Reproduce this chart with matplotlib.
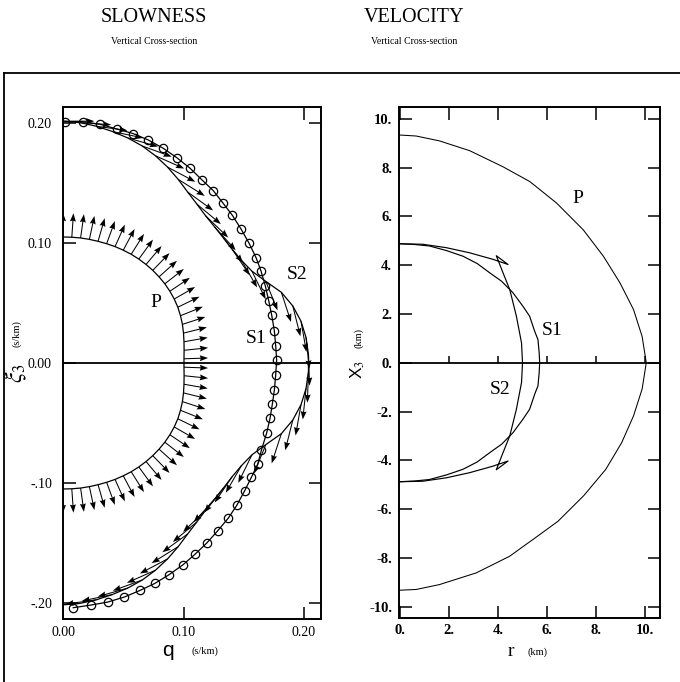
import matplotlib
matplotlib.use("Agg")
import numpy as np
import matplotlib.pyplot as plt
from matplotlib.lines import Line2D

plt.rcParams['font.family'] = ['Liberation Serif', 'DejaVu Serif']
plt.rcParams['mathtext.fontset'] = 'stix'

# ---------------- SLOWNESS panel data (q, xi in s/km) ----------------
# P slowness curve points (where the P polarization arrows start)
p_q = [0.0000, 0.0073, 0.0146, 0.0219, 0.0291, 0.0362, 0.0432, 0.0500, 0.0566, 0.0629,
       0.0689, 0.0745, 0.0797, 0.0845, 0.0887, 0.0923, 0.0953, 0.0975, 0.0991, 0.1000,
       0.1004, 0.1005, 0.1004,
       0.1004, 0.1005, 0.1004, 0.1000, 0.0991, 0.0975, 0.0953, 0.0923, 0.0887, 0.0845,
       0.0797, 0.0745, 0.0689, 0.0629, 0.0566, 0.0500, 0.0432, 0.0362, 0.0291, 0.0219,
       0.0146, 0.0073, 0.0000]
p_xi = [0.1050, 0.1048, 0.1042, 0.1030, 0.1014, 0.0994, 0.0970, 0.0940, 0.0906, 0.0866,
        0.0821, 0.0772, 0.0718, 0.0660, 0.0598, 0.0533, 0.0465, 0.0394, 0.0322, 0.0249,
        0.0177, 0.0106, 0.0035,
        -0.0035, -0.0106, -0.0177, -0.0249, -0.0322, -0.0394, -0.0465, -0.0533, -0.0598, -0.0660,
        -0.0718, -0.0772, -0.0821, -0.0866, -0.0906, -0.0940, -0.0970, -0.0994, -0.1014, -0.1030,
        -0.1042, -0.1048, -0.1050]
# P polarization direction (degrees, clockwise from +xi axis)
p_pol = [0, 4, 8, 12, 16, 20, 24, 28, 32, 36, 40, 44, 48, 52, 56, 60, 64, 68, 72, 76, 80, 84, 88,
         92, 96, 100, 104, 108, 112, 116, 120, 124, 128, 132, 136, 140, 144, 148, 152, 156, 160,
         164, 168, 172, 176, 180]

# S2 slowness curve points (where the S2 polarization arrows start)
s2_q = [0.0000, 0.0140, 0.0277, 0.0410, 0.0538, 0.0658, 0.0768, 0.0868, 0.0956, 0.1035,
        0.1111, 0.1184, 0.1259, 0.1332, 0.1404, 0.1481, 0.1568, 0.1683, 0.1812, 0.1907,
        0.1975, 0.2017, 0.2037,
        0.2037, 0.2017, 0.1975, 0.1907, 0.1812, 0.1683, 0.1568, 0.1481, 0.1404, 0.1332,
        0.1259, 0.1184, 0.1111, 0.1035, 0.0956, 0.0868, 0.0768, 0.0658, 0.0538, 0.0410,
        0.0277, 0.0140, 0.0000]
s2_xi = [0.2015, 0.2003, 0.1973, 0.1929, 0.1875, 0.1808, 0.1726, 0.1632, 0.1530, 0.1424,
         0.1324, 0.1226, 0.1133, 0.1041, 0.0947, 0.0855, 0.0765, 0.0680, 0.0589, 0.0475,
         0.0348, 0.0212, 0.0071,
         -0.0071, -0.0212, -0.0348, -0.0475, -0.0589, -0.0680, -0.0765, -0.0855, -0.0947, -0.1041,
         -0.1133, -0.1226, -0.1324, -0.1424, -0.1530, -0.1632, -0.1726, -0.1808, -0.1875, -0.1929,
         -0.1973, -0.2003, -0.2015]
s2_pol = [90, 94, 98, 102, 106, 110, 114, 118, 122, 126, 130, 134, 138, 142, 146, 150, 154, 158,
          162, 166, 170, 174, 178,
          182, 186, 190, 194, 198, 202, 206, 210, 214, 218, 222, 226, 230, 234, 238, 242, 246,
          250, 254, 258, 262, 266, 270]

# S1 slowness (polarization normal to the section -> circles), top to bottom
s1_q = [0.0017, 0.0163, 0.0307, 0.0446, 0.0583, 0.0708, 0.0832, 0.0944, 0.1054, 0.1154,
        0.1247, 0.1325, 0.1405, 0.1477, 0.1544, 0.1602, 0.1643, 0.1679, 0.1707, 0.1732,
        0.1754, 0.1765, 0.1773,
        0.1765, 0.1754, 0.1737, 0.1718, 0.1690, 0.1647, 0.1616, 0.1563, 0.1508, 0.1442,
        0.1372, 0.1284, 0.1193, 0.1095, 0.0996, 0.0880, 0.0763, 0.0641, 0.0509, 0.0371,
        0.0230, 0.0085]
s1_xi = [0.2011, 0.2011, 0.1989, 0.1950, 0.1911, 0.1858, 0.1789, 0.1711, 0.1623, 0.1525,
         0.1436, 0.1336, 0.1231, 0.1117, 0.0998, 0.0878, 0.0767, 0.0642, 0.0519, 0.0398,
         0.0267, 0.0144, 0.0025,
         -0.0100, -0.0225, -0.0344, -0.0461, -0.0583, -0.0725, -0.0842, -0.0953, -0.1064, -0.1186,
         -0.1292, -0.1398, -0.1500, -0.1594, -0.1681, -0.1764, -0.1836, -0.1894, -0.1950, -0.1992,
         -0.2017, -0.2039]

# ---------------- VELOCITY panel data (r, x3 in km) ----------------
pv_r = [0.00, 0.66, 1.61, 2.84, 4.20, 5.30, 6.39, 7.48, 8.30, 8.98, 9.53, 9.88, 10.05,
        9.88, 9.53, 9.05, 8.40, 7.50, 6.45, 5.70, 4.47, 3.11, 1.61, 0.66, 0.00]
pv_x3 = [9.34, 9.30, 9.10, 8.70, 8.04, 7.43, 6.55, 5.45, 4.37, 3.27, 2.18, 1.08, 0.00,
         -1.08, -2.18, -3.27, -4.37, -5.45, -6.50, -7.05, -7.94, -8.62, -9.10, -9.30, -9.33]

s1v_r = [0.00, 0.60, 1.20, 1.90, 2.57, 3.15, 3.66, 4.15, 4.61, 5.00, 5.29, 5.50, 5.63, 5.68, 5.70,
         5.68, 5.63, 5.50, 5.29, 5.00, 4.61, 4.15, 3.66, 3.15, 2.57, 1.90, 1.20, 0.60, 0.00]
s1v_x3 = [4.88, 4.85, 4.79, 4.60, 4.37, 4.07, 3.69, 3.34, 2.87, 2.34, 1.91, 1.28, 0.95, 0.41, 0.00,
          -0.41, -0.95, -1.28, -1.91, -2.34, -2.87, -3.34, -3.69, -4.07, -4.37, -4.60, -4.79, -4.85, -4.88]

# S2 ray surface with cusps (upper branch -> cusp -> back -> lower branches)
s2v_r = [0.00, 0.93, 1.89, 2.84, 3.80, 4.41, 3.93, 4.20, 4.48, 4.75, 4.96, 5.00,
         4.96, 4.75, 4.48, 4.20, 3.93, 4.41, 3.80, 2.84, 1.89, 0.93, 0.00]
s2v_x3 = [4.88, 4.86, 4.72, 4.51, 4.24, 4.03, 4.39, 3.70, 3.00, 1.91, 0.81, 0.00,
          -0.81, -1.91, -3.00, -3.70, -4.39, -4.03, -4.24, -4.51, -4.72, -4.86, -4.88]

# tick values / labels
slow_xticks = [0.0, 0.1, 0.2]
slow_xlabels = ["0.00", "0.10", "0.20"]
slow_yticks = [-0.2, -0.1, 0.0, 0.1, 0.2]
slow_ylabels = ["-.20", "-.10", "0.00", "0.10", "0.20"]
vel_xticks = [0, 2, 4, 6, 8, 10]
vel_xlabels = ["0.", "2.", "4.", "6.", "8.", "10."]
vel_yticks = [-10, -8, -6, -4, -2, 0, 2, 4, 6, 8, 10]
vel_ylabels = ["-10.", "-8.", "-6.", "-4.", "-2.", "0.", "2.", "4.", "6.", "8.", "10."]

# ---------------- figure ----------------
W, H = 680, 682
fig = plt.figure(figsize=(6.8, 6.82), dpi=100)

def fx(px):
    return px / W

def fy(py):
    return 1 - py / H

axL = fig.add_axes([fx(63), fy(619), (321 - 63) / W, (619 - 107) / H])
axR = fig.add_axes([fx(399), fy(618), (660 - 399) / W, (618 - 107) / H])

LW = 0.9
P_LEN = 0.020
S2_LEN = 0.026
ARROW = dict(angles='xy', scale_units='xy', scale=1, pivot='tail', color='k',
             width=0.0040, headwidth=5.8, headlength=8.0, headaxislength=7.2)

# P curve + arrows
axL.plot(p_q, p_xi, color='k', lw=LW)
pp = np.radians(p_pol)
axL.quiver(p_q, p_xi, P_LEN * np.sin(pp), P_LEN * np.cos(pp), **ARROW)
# S2 curve + arrows
axL.plot(s2_q, s2_xi, color='k', lw=LW)
sp = np.radians(s2_pol)
axL.quiver(s2_q, s2_xi, S2_LEN * np.sin(sp), S2_LEN * np.cos(sp), **ARROW)
# S1 curve with circles
axL.plot(s1_q, s1_xi, color='k', lw=LW, marker='o', ms=6, mfc='none', mec='k', mew=0.9)
axL.axhline(0, color='k', lw=1.3)

axL.set_xlim(0, 0.2141)
axL.set_ylim(-0.2133, 0.2133)
axL.set_xticks(slow_xticks)
axL.set_xticklabels(slow_xlabels)
axL.set_yticks(slow_yticks)
axL.set_yticklabels(slow_ylabels)
axL.tick_params(direction='in', length=9, width=1.1, top=True, right=True, labelsize=10)
axL.tick_params(axis='y', pad=8)
axL.tick_params(axis='x', pad=5)

axL.text(0.0770, 0.050, "P", fontsize=14, ha='center', va='center')
axL.text(0.1605, 0.020, "S1", fontsize=14, ha='center', va='center')
axL.text(0.1942, 0.074, "S2", fontsize=14, ha='center', va='center')

# velocity panel
axR.plot(pv_r, pv_x3, color='k', lw=0.75)
axR.plot(s1v_r, s1v_x3, color='k', lw=0.85)
axR.plot(s2v_r, s2v_x3, color='k', lw=0.85)
axR.axhline(0, color='k', lw=1.3)
axR.plot(vel_xticks[1:], [0] * (len(vel_xticks) - 1), ls='none', marker=2, ms=5, mew=1.1,
         color='k')
axR.set_xlim(-0.04, 10.61)
axR.set_ylim(-10.47, 10.49)
axR.set_xticks(vel_xticks)
axR.set_xticklabels(vel_xlabels, fontweight='bold')
axR.set_yticks(vel_yticks)
axR.set_yticklabels(vel_ylabels, fontweight='bold')
axR.tick_params(direction='in', length=9, width=1.1, top=True, right=True, labelsize=10.5)
axR.tick_params(axis='y', pad=5)
axR.tick_params(axis='x', pad=4)

axR.text(7.25, 6.75, "P", fontsize=14, ha='center', va='center')
axR.text(6.22, 1.33, "S1", fontsize=14, ha='center', va='center')
axR.text(4.10, -1.10, "S2", fontsize=14, ha='center', va='center')

for ax in (axL, axR):
    for s in ax.spines.values():
        s.set_linewidth(1.4)

# titles
fig.text(fx(154), fy(17), "SLOWNESS", fontsize=14.5, ha='center', va='center')
fig.text(fx(154), fy(42), "Vertical Cross-section", fontsize=7, ha='center', va='center')
fig.text(fx(414), fy(17), "VELOCITY", fontsize=14.5, ha='center', va='center')
fig.text(fx(414), fy(42), "Vertical Cross-section", fontsize=7, ha='center', va='center')

# axis labels
fig.text(fx(16), fy(373), r"$\xi_3$", fontsize=17, rotation=90, ha='center', va='center')
fig.text(fx(17), fy(334), "(s/km)", fontsize=7.5, rotation=90, ha='center', va='center')
fig.text(fx(168), fy(651), "q", fontsize=15, ha='center', va='center', family='Liberation Sans')
fig.text(fx(205), fy(651), "(s/km)", fontsize=7.5, ha='center', va='center')
fig.text(fx(358), fy(369), r"X$_3$", fontsize=12.5, rotation=90, ha='center', va='center',
         family='Liberation Sans')
fig.text(fx(359), fy(338), "(km)", fontsize=7.5, rotation=90, ha='center', va='center')
fig.text(fx(511), fy(652), "r", fontsize=14, ha='center', va='center')
fig.text(fx(537), fy(652), "(km)", fontsize=7.5, ha='center', va='center')

# outer frame
fig.add_artist(Line2D([fx(4), fx(680)], [fy(73), fy(73)], color='k', lw=1.3))
fig.add_artist(Line2D([fx(4), fx(4)], [fy(73), fy(682)], color='k', lw=1.3))

fig.savefig("out.png", dpi=100)
